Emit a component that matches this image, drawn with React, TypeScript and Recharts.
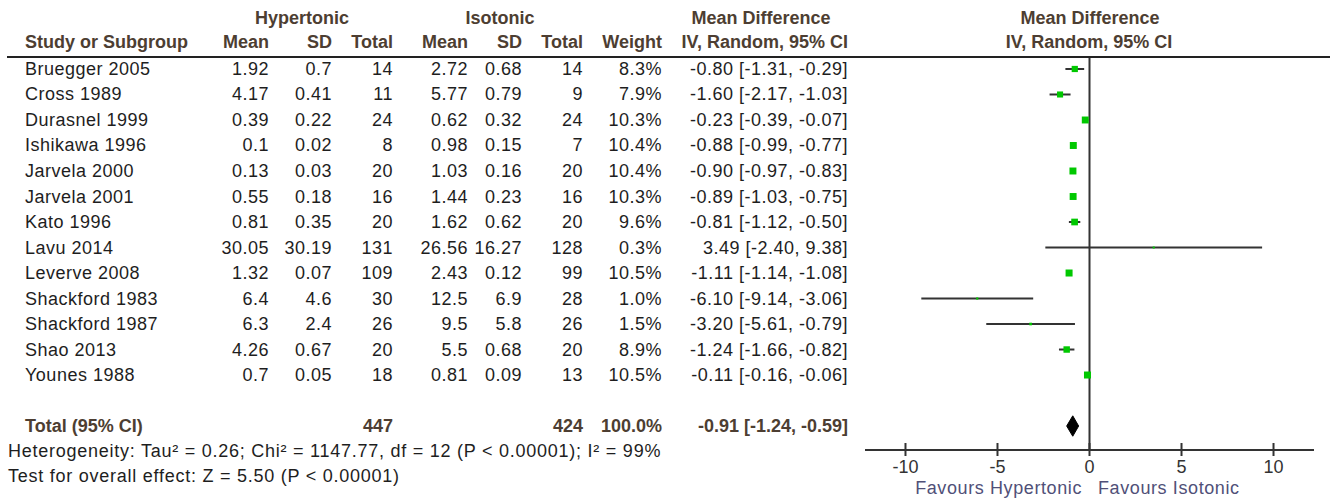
import React from "react"
import { ComposedChart, Scatter, XAxis, YAxis, ErrorBar, ReferenceLine } from "recharts"

const studies = [
  "Bruegger 2005", "Cross 1989", "Durasnel 1999", "Ishikawa 1996", "Jarvela 2000", "Jarvela 2001",
  "Kato 1996", "Lavu 2014", "Leverve 2008", "Shackford 1983", "Shackford 1987", "Shao 2013", "Younes 1988",
]
const hyperMean = [1.92, 4.17, 0.39, 0.1, 0.13, 0.55, 0.81, 30.05, 1.32, 6.4, 6.3, 4.26, 0.7]
const hyperSD = [0.7, 0.41, 0.22, 0.02, 0.03, 0.18, 0.35, 30.19, 0.07, 4.6, 2.4, 0.67, 0.05]
const hyperN = [14, 11, 24, 8, 20, 16, 20, 131, 109, 30, 26, 20, 18]
const isoMean = [2.72, 5.77, 0.62, 0.98, 1.03, 1.44, 1.62, 26.56, 2.43, 12.5, 9.5, 5.5, 0.81]
const isoSD = [0.68, 0.79, 0.32, 0.15, 0.16, 0.23, 0.62, 16.27, 0.12, 6.9, 5.8, 0.68, 0.09]
const isoN = [14, 9, 24, 7, 20, 16, 20, 128, 99, 28, 26, 20, 13]
const weight = [8.3, 7.9, 10.3, 10.4, 10.4, 10.3, 9.6, 0.3, 10.5, 1.0, 1.5, 8.9, 10.5]
const meanDiff = [-0.8, -1.6, -0.23, -0.88, -0.9, -0.89, -0.81, 3.49, -1.11, -6.1, -3.2, -1.24, -0.11]
const ciLow = [-1.31, -2.17, -0.39, -0.99, -0.97, -1.03, -1.12, -2.4, -1.14, -9.14, -5.61, -1.66, -0.16]
const ciHigh = [-0.29, -1.03, -0.07, -0.77, -0.83, -0.75, -0.5, 9.38, -1.08, -3.06, -0.79, -0.82, -0.06]

const totalHyperN = 447
const totalIsoN = 424
const totalWeight = 100.0
const totalMD = -0.91
const totalLow = -1.24
const totalHigh = -0.59

const xTicks = [-10, -5, 0, 5, 10]
const totalRow = 14
const rowTicks = [...studies.map((_, i) => i), totalRow]

const heterogeneity = "Heterogeneity: Tau\u00b2 = 0.26; Chi\u00b2 = 1147.77, df = 12 (P < 0.00001); I\u00b2 = 99%"
const overallTest = "Test for overall effect: Z = 5.50 (P < 0.00001)"

const points = studies.map((_, i) => ({
  x: meanDiff[i],
  y: i,
  err: [meanDiff[i] - ciLow[i], ciHigh[i] - meanDiff[i]],
  w: weight[i],
}))

// diamond outline for the pooled estimate (half height in row units)
const dh = 0.4
const diamond = [
  { x: totalLow, y: totalRow },
  { x: totalMD, y: totalRow - dh },
  { x: totalHigh, y: totalRow },
  { x: totalMD, y: totalRow + dh },
  { x: totalLow, y: totalRow },
]

const FONT = '"Liberation Sans", Arial, Helvetica, sans-serif'
const HEAD = "#4d3e32"
const INK = "#1e1e1e"
const GREEN = "#00c800"
const LINE = "#333"

const nameX = 25
const col = { hMean: 269, hSD: 332, hN: 393, iMean: 468, iSD: 522, iN: 583, wt: 662, ci: 848 }

const fmtCI = (m: number, lo: number, hi: number) => `${m.toFixed(2)} [${lo.toFixed(2)}, ${hi.toFixed(2)}]`

function RowTick({ y, payload }: any) {
  const i = payload.value
  if (i === totalRow) {
    const cells: [string, number][] = [
      [String(totalHyperN), col.hN],
      [String(totalIsoN), col.iN],
      [totalWeight.toFixed(1) + "%", col.wt],
      [fmtCI(totalMD, totalLow, totalHigh), col.ci],
    ]
    return (
      <g fontFamily={FONT} fontSize={18} fontWeight="bold" fill={HEAD}>
        <text x={nameX} y={y} dominantBaseline="central">Total (95% CI)</text>
        {cells.map(([t, x], k) => (
          <text key={k} x={x} y={y} textAnchor="end" dominantBaseline="central">{t}</text>
        ))}
      </g>
    )
  }
  const cells: [string, number][] = [
    [String(hyperMean[i]), col.hMean],
    [String(hyperSD[i]), col.hSD],
    [String(hyperN[i]), col.hN],
    [String(isoMean[i]), col.iMean],
    [String(isoSD[i]), col.iSD],
    [String(isoN[i]), col.iN],
    [weight[i].toFixed(1) + "%", col.wt],
    [fmtCI(meanDiff[i], ciLow[i], ciHigh[i]), col.ci],
  ]
  return (
    <g fontFamily={FONT} fontSize={18} fill={INK} letterSpacing={0.5}>
      <text x={nameX} y={y} dominantBaseline="central">{studies[i]}</text>
      {cells.map(([t, x], k) => (
        <text key={k} x={x} y={y} textAnchor="end" dominantBaseline="central">{t}</text>
      ))}
    </g>
  )
}

function AxisTick({ x, y, payload }: any) {
  return (
    <g>
      <line x1={x} x2={x} y1={y - 7} y2={y + 6} stroke={LINE} strokeWidth={2} />
      <text x={x} y={y + 17} textAnchor="middle" dominantBaseline="central" fontFamily={FONT} fontSize={18} fill="#333">
        {payload.value}
      </text>
    </g>
  )
}

function StudyBox({ cx, cy, payload }: any) {
  const s = Math.max(2, 7 * Math.sqrt(payload.w / 10.5))
  return <rect x={cx - s / 2} y={cy - s / 2} width={s} height={s} fill={GREEN} />
}

function Overlay() {
  const h = { fontFamily: FONT, fontSize: 18, fontWeight: "bold" as const, fill: HEAD }
  return (
    <svg width={1332} height={499} style={{ position: "absolute", left: 0, top: 0, pointerEvents: "none" }}>
      <g {...h}>
        <text x={302} y={18} textAnchor="middle" dominantBaseline="central">Hypertonic</text>
        <text x={500} y={18} textAnchor="middle" dominantBaseline="central">Isotonic</text>
        <text x={761} y={18} textAnchor="middle" dominantBaseline="central">Mean Difference</text>
        <text x={1090} y={18} textAnchor="middle" dominantBaseline="central">Mean Difference</text>
        <text x={nameX} y={42} dominantBaseline="central">Study or Subgroup</text>
        <text x={col.hMean} y={42} textAnchor="end" dominantBaseline="central">Mean</text>
        <text x={col.hSD} y={42} textAnchor="end" dominantBaseline="central">SD</text>
        <text x={col.hN} y={42} textAnchor="end" dominantBaseline="central">Total</text>
        <text x={col.iMean} y={42} textAnchor="end" dominantBaseline="central">Mean</text>
        <text x={col.iSD} y={42} textAnchor="end" dominantBaseline="central">SD</text>
        <text x={col.iN} y={42} textAnchor="end" dominantBaseline="central">Total</text>
        <text x={col.wt} y={42} textAnchor="end" dominantBaseline="central">Weight</text>
        <text x={col.ci} y={42} textAnchor="end" dominantBaseline="central">IV, Random, 95% CI</text>
        <text x={1089} y={42} textAnchor="middle" dominantBaseline="central">IV, Random, 95% CI</text>
      </g>
      <line x1={7} x2={1330} y1={57} y2={57} stroke="#222" strokeWidth={2} />
      <g fontFamily={FONT} fontSize={18} fill={INK} letterSpacing={0.75}>
        <text x={8} y={451} dominantBaseline="central">{heterogeneity}</text>
        <text x={8} y={476} dominantBaseline="central">{overallTest}</text>
      </g>
      <g fontFamily={FONT} fontSize={18} fill="#505078" letterSpacing={0.6}>
        <text x={1082} y={488} textAnchor="end" dominantBaseline="central">Favours Hypertonic</text>
        <text x={1098} y={488} dominantBaseline="central">Favours Isotonic</text>
      </g>
    </svg>
  )
}

export default function App() {
  return (
    <div style={{ position: "absolute", left: 0, top: 0, width: 1332, height: 499, background: "#fff" }}>
      <ComposedChart width={1332} height={499} margin={{ top: 57, right: 18, bottom: 9, left: 805 }}>
        <XAxis
          type="number"
          dataKey="x"
          domain={[-12.2, 12.2]}
          ticks={xTicks}
          allowDataOverflow
          height={40}
          tickSize={0}
          tickMargin={0}
          tick={<AxisTick />}
          axisLine={{ stroke: LINE, strokeWidth: 2 }}
        />
        <YAxis
          type="number"
          dataKey="y"
          domain={[-0.47, 14.94]}
          reversed
          ticks={rowTicks}
          interval={0}
          allowDataOverflow
          width={60}
          axisLine={false}
          tickLine={false}
          tick={<RowTick />}
        />
        <ReferenceLine x={0} stroke={LINE} strokeWidth={2} />
        <Scatter data={points} shape={<StudyBox />} isAnimationActive={false}>
          <ErrorBar dataKey="err" direction="x" width={0} stroke={LINE} strokeWidth={2} />
        </Scatter>
        <Scatter
          data={diamond}
          shape={() => <g />}
          line={{ fill: "#000", stroke: "#000", strokeWidth: 1 }}
          lineJointType="linear"
          isAnimationActive={false}
        />
      </ComposedChart>
      <Overlay />
    </div>
  )
}
